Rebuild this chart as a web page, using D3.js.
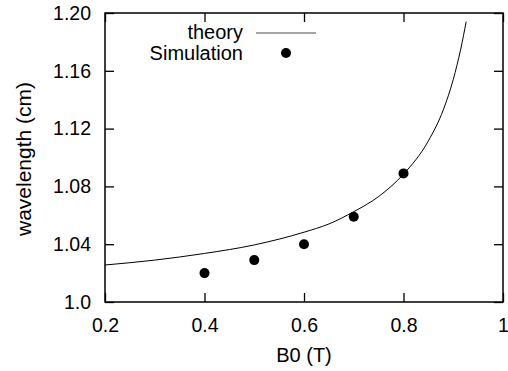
<!DOCTYPE html>
<html>
<head>
<meta charset="utf-8">
<script src="https://cdn.jsdelivr.net/npm/d3@7"></script>
<style>
  html, body { margin: 0; padding: 0; background: #fff; }
  svg { display: block; }
  text { font-family: "Liberation Sans", Arial, Helvetica, sans-serif; fill: #000; }
</style>
</head>
<body>
<svg id="chart" width="508" height="371"></svg>
<script>
// ---- data ----
const simB = [0.4, 0.5, 0.6, 0.7, 0.8];
const simLambda = [1.020, 1.029, 1.040, 1.059, 1.089];

const theoryB = [0.2, 0.3, 0.4, 0.5, 0.6, 0.65, 0.7, 0.75, 0.8, 0.85, 0.88, 0.9, 0.915, 0.926];
const theoryLambda = [1.0256, 1.029, 1.0336, 1.0395, 1.0483, 1.054, 1.0625, 1.073, 1.0885, 1.1115, 1.133, 1.154, 1.175, 1.194];

const xTicks = [0.2, 0.4, 0.6, 0.8, 1.0];
const xTickLabels = ["0.2", "0.4", "0.6", "0.8", "1"];
const yTicks = [1.0, 1.04, 1.08, 1.12, 1.16, 1.20];
const yTickLabels = ["1.0", "1.04", "1.08", "1.12", "1.16", "1.20"];

const legendLabels = ["theory", "Simulation"];
const xTitle = "B0 (T)";
const yTitle = "wavelength (cm)";

// ---- layout ----
const mLeft = 105, mRight = 503, mTop = 13, mBottom = 302;
const svg = d3.select("#chart");

const x = d3.scaleLinear().domain([0.2, 1.0]).range([mLeft, mRight]);
const y = d3.scaleLinear().domain([1.0, 1.2]).range([mBottom, mTop]);

const tickLen = 9;
const fs = 19.5;

function styleAxis(g) {
  g.select(".domain").remove();
  g.selectAll(".tick line").attr("stroke", "#000").attr("stroke-width", 1.3);
  g.selectAll(".tick text").attr("font-size", fs).attr("font-family", '"Liberation Sans", Arial, sans-serif').attr("fill", "#000");
}

// bottom axis (labels) with inward ticks
svg.append("g").attr("transform", `translate(0,${mBottom})`)
  .call(d3.axisBottom(x).tickValues(xTicks).tickFormat((d, i) => xTickLabels[i]).tickSize(-tickLen).tickPadding(16))
  .call(styleAxis);
// top mirrored ticks
svg.append("g").attr("transform", `translate(0,${mTop})`)
  .call(d3.axisTop(x).tickValues(xTicks).tickFormat("").tickSize(-tickLen))
  .call(styleAxis);
// left axis
svg.append("g").attr("transform", `translate(${mLeft},0)`)
  .call(d3.axisLeft(y).tickValues(yTicks).tickFormat((d, i) => yTickLabels[i]).tickSize(-tickLen).tickPadding(14))
  .call(styleAxis);
// right mirrored ticks
svg.append("g").attr("transform", `translate(${mRight},0)`)
  .call(d3.axisRight(y).tickValues(yTicks).tickFormat("").tickSize(-tickLen))
  .call(styleAxis);

// frame
svg.append("rect")
  .attr("x", mLeft).attr("y", mTop)
  .attr("width", mRight - mLeft).attr("height", mBottom - mTop)
  .attr("fill", "none").attr("stroke", "#000").attr("stroke-width", 1.5);

// theory curve
const theory = theoryB.map((b, i) => [b, theoryLambda[i]]);
svg.append("path")
  .datum(theory)
  .attr("fill", "none")
  .attr("stroke", "#000")
  .attr("stroke-width", 1)
  .attr("d", d3.line().x(d => x(d[0])).y(d => y(d[1])).curve(d3.curveMonotoneX));

// simulation points
svg.append("g").selectAll("circle")
  .data(simB.map((b, i) => [b, simLambda[i]]))
  .join("circle")
  .attr("cx", d => x(d[0]))
  .attr("cy", d => y(d[1]))
  .attr("r", 5)
  .attr("fill", "#000");

// legend
const lg = svg.append("g");
lg.append("text").attr("x", 243).attr("y", 39).attr("text-anchor", "end")
  .attr("font-size", 20).text(legendLabels[0]);
lg.append("line").attr("x1", 256).attr("x2", 316).attr("y1", 33).attr("y2", 33)
  .attr("stroke", "#888").attr("stroke-width", 1.5);
lg.append("text").attr("x", 243).attr("y", 60).attr("text-anchor", "end")
  .attr("font-size", 20).text(legendLabels[1]);
lg.append("circle").attr("cx", 286).attr("cy", 53).attr("r", 5).attr("fill", "#000");

// axis titles
svg.append("text").attr("x", 304).attr("y", 362).attr("text-anchor", "middle")
  .attr("font-size", 20).text(xTitle);
svg.append("text")
  .attr("transform", `translate(31,159) rotate(-90)`)
  .attr("text-anchor", "middle")
  .attr("font-size", 21).text(yTitle);
</script>
</body>
</html>
